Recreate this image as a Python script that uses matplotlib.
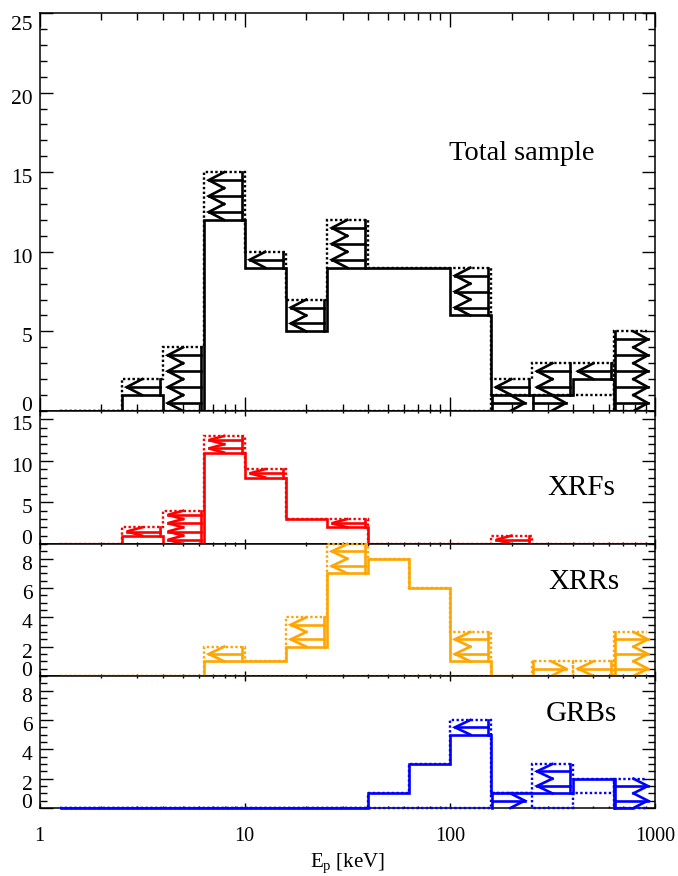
import numpy as np
import matplotlib.pyplot as plt
from matplotlib.ticker import MultipleLocator
from matplotlib.transforms import blended_transform_factory, ScaledTranslation

plt.rcParams["font.family"] = "Liberation Serif"
plt.rcParams["mathtext.fontset"] = "custom"
plt.rcParams["mathtext.rm"] = "Liberation Serif"
plt.rcParams["mathtext.it"] = "Liberation Serif:italic"

# log10(Ep) lower edges of the 14 bins (0.2 dex wide)
log_lo = np.round(np.arange(0.2, 2.81, 0.2), 1)

# counts per bin: measured Ep, upper limits (<-), lower limits (->)
xrf    = [0, 1, 0, 11, 8, 3, 2, 0, 0, 0, 0, 0, 0, 0]
xrf_ul = [0, 1, 4, 2, 1, 0, 1, 0, 0, 0, 1, 0, 0, 0]
xrf_lo = [0, 0, 0, 0, 0, 0, 0, 0, 0, 0, 0, 0, 0, 0]
xrf_ll = [0, 0, 0, 0, 0, 0, 0, 0, 0, 0, 0, 0, 0, 0]

xrr    = [0, 0, 0, 1, 1, 2, 7, 8, 6, 1, 0, 0, 0, 0]
xrr_ul = [0, 0, 0, 1, 0, 2, 2, 0, 0, 2, 0, 0, 1, 0]
xrr_lo = [0, 0, 0, 0, 0, 0, 0, 0, 0, 0, 0, 1, 0, 3]
xrr_ll = [0, 0, 0, 0, 0, 0, 0, 0, 0, 0, 0, 1, 0, 3]

grb    = [0, 0, 0, 0, 0, 0, 0, 1, 3, 5, 1, 1, 2, 0]
grb_ul = [0, 0, 0, 0, 0, 0, 0, 0, 0, 1, 0, 2, 0, 0]
grb_lo = [0, 0, 0, 0, 0, 0, 0, 0, 0, 0, 1, 0, 1, 2]
grb_ll = [0, 0, 0, 0, 0, 0, 0, 0, 0, 0, 1, 0, 0, 2]

classes = [
    ("XRFs", "#ff0000", xrf, xrf_ul, xrf_lo, xrf_ll),
    ("XRRs", "#ffa500", xrr, xrr_ul, xrr_lo, xrr_ll),
    ("GRBs", "#0000ff", grb, grb_ul, grb_lo, grb_ll),
]
total = [np.sum([c[i] for c in classes], axis=0) for i in range(2, 6)]
panels = [("Total sample", "black", *total)] + classes

solid_edges = 10 ** np.r_[0.1, log_lo[1:], 2.9]
dot_edges = 10 ** np.r_[0.1, log_lo[1:], 2.96]

LW = 1.9
DOT = (0, (1, 1))


def arrows(ax, k, base, n, side, color):
    lo = log_lo[k]
    if side == "left":
        tip, back, end = lo + 0.025, lo + 0.10, lo + 0.185
    else:
        tip, back, end = lo + 0.165, lo + 0.095, lo + 0.005
    kw = dict(color=color, lw=LW, clip_on=False, zorder=4, solid_joinstyle="miter")
    for j in range(n):
        y = base + j + 0.5
        ax.plot([10 ** end, 10 ** tip], [y, y], **kw)
        ax.plot([10 ** back, 10 ** tip, 10 ** back], [y + 0.5, y, y - 0.5], **kw)
    ax.plot([10 ** end] * 2, [base, base + n], **kw)


def ylabels(ax, ticks, ymax):
    # IDL-like placement: bottom label sits on the axis, the others a bit low
    tr = blended_transform_factory(ax.transAxes, ax.transData)
    for v in ticks:
        if v == 0:
            va, dy = "baseline", 0
        elif v == ymax:
            va, dy = "top", -3
        else:
            va, dy = "center_baseline", -4
        off = ScaledTranslation(-7 / 100, dy / 100, fig.dpi_scale_trans)
        ax.text(0, v, f"{v:g}", transform=tr + off, ha="right", va=va, fontsize=15.5)


# panel extents in pixels (top, bottom) on a 678 x 876 canvas
rows = [(13, 411, 25, 5, 1), (411, 544, 16, 5, 1),
        (544, 676, 9, 2, 0.5), (676, 808, 9, 2, 0.5)]
text_pos = [(0.784, 0.648), (0.881, 0.42), (0.885, 0.71), (0.881, 0.71)]
text_size = [20.5, 21, 21, 21]

fig = plt.figure(figsize=(6.78, 8.76), dpi=100)
axes = []
for i, ((top, bot, ymax, maj, mnr), (name, col, h, ul, lo, ll)) in enumerate(zip(rows, panels)):
    ax = fig.add_axes([39.5 / 678, 1 - bot / 876, 615.5 / 678, (bot - top) / 876])
    axes.append(ax)
    h, ul, lo, ll = map(np.asarray, (h, ul, lo, ll))

    # dotted: measured + upper limits, and lower limits alone
    ax.stairs(h + ul, dot_edges, baseline=None, color=col, lw=LW * 0.9,
              linestyle=DOT, zorder=3, clip_on=False)
    if lo.any():
        ax.stairs(lo, dot_edges, baseline=None, color=col, lw=LW * 0.9,
                  linestyle=DOT, zorder=3, clip_on=False)
    ax.stairs(h, solid_edges, baseline=None, color=col, lw=LW, zorder=3.5, clip_on=False)

    for k in range(len(log_lo)):
        if ul[k]:
            arrows(ax, k, h[k], ul[k], "left", col)
        if ll[k]:
            arrows(ax, k, 0, ll[k], "right", col)

    ax.set_xscale("log")
    ax.set_xlim(1, 1000)
    ax.set_ylim(0, ymax)
    ax.yaxis.set_major_locator(MultipleLocator(maj))
    ax.yaxis.set_minor_locator(MultipleLocator(mnr))
    xl = 10 if i == 0 else 3.5
    ax.tick_params(which="both", direction="in", top=True, right=True, width=1,
                   labelsize=14.5, labelleft=False)
    ax.tick_params(axis="x", which="major", length=xl)
    ax.tick_params(axis="x", which="minor", length=xl / 2)
    ax.tick_params(axis="y", which="major", length=9.4)
    ax.tick_params(axis="y", which="minor", length=4.7)
    for s in ax.spines.values():
        s.set_linewidth(1.1)
    if i < 3:
        ax.tick_params(axis="x", labelbottom=False)
    ylabels(ax, np.arange(0, ymax + 0.01, maj), ymax)
    ax.text(*text_pos[i], name, transform=ax.transAxes, ha="center", va="center",
            fontsize=text_size[i])

ax = axes[-1]
ax.set_xticks([1, 10, 100, 1000], ["1", "10", "100", "1000"])
ax.tick_params(axis="x", which="major", pad=14)
ax.set_xlabel(r"E$_\mathrm{p}$ [keV]", fontsize=15)
ax.xaxis.set_label_coords(0.5, -0.33)

fig.savefig("out.png", dpi=100, facecolor="white")
